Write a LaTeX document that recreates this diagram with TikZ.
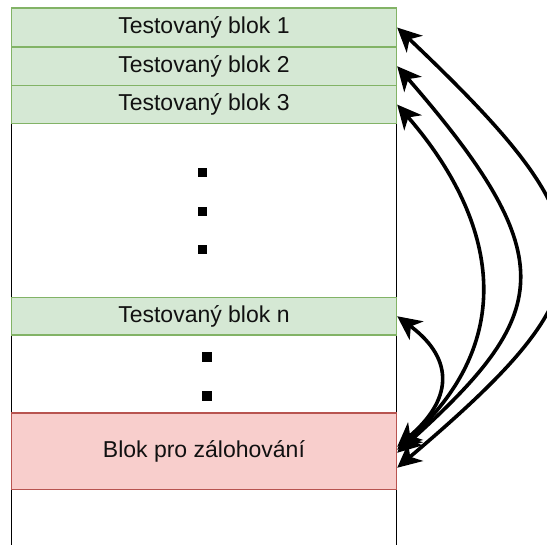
\documentclass[tikz,border=0pt]{standalone}
\usepackage{fontspec}
\setmainfont{Liberation Sans}
\usetikzlibrary{arrows.meta}

\definecolor{blockfill}{HTML}{D5E8D4}
\definecolor{blockline}{HTML}{82B366}
\definecolor{backupfill}{HTML}{F8CECC}
\definecolor{backupline}{HTML}{B85450}
\definecolor{labeltext}{HTML}{111111}

\begin{document}
\begin{tikzpicture}[x=1pt,y=-1pt,
  memframe/.style={draw=black,line width=1.4pt,rectangle,inner sep=0pt,
    minimum width=385pt,minimum height=570pt,anchor=north west},
  testblock/.style={draw=blockline,fill=blockfill,line width=1.5pt,rectangle,
    inner sep=0pt,minimum width=385pt,anchor=north west,text=labeltext,
    font=\fontsize{23}{27}\selectfont},
  backupblock/.style={testblock,draw=backupline,fill=backupfill},
  gap/.style={fill=black,rectangle,inner sep=0pt,minimum size=9.5pt},
  swap/.style={line width=3.6pt,{Stealth[length=24pt,width=23pt,inset=7pt]}-{Stealth[length=24pt,width=23pt,inset=7pt]}}
]
\useasboundingbox (0,0) rectangle (547,545);

% memory area: open at the bottom (clipped by the page)
\node[memframe] (mem) at (10.7,7.3) {};

% tested blocks
\node[testblock,minimum height=39pt]   (b1) at (10.7,7.3)   {Testovaný blok 1};
\node[testblock,minimum height=38.4pt] (b2) at (10.7,46.3)  {Testovaný blok 2};
\node[testblock,minimum height=38.3pt] (b3) at (10.7,84.7)  {Testovaný blok 3};
\node[testblock,minimum height=37.6pt] (bn) at (10.7,296.7) {Testovaný blok n};
\node[backupblock,minimum height=76.7pt] (bk) at (10.7,412.3) {Blok pro zálohování};

% omitted blocks
\node[gap] (g1) at (202.5,172.5) {};
\node[gap] (g2) at (202.5,211.5) {};
\node[gap] (g3) at (202.5,249.5) {};
\node[gap] (g4) at (207,357) {};
\node[gap] (g5) at (207,396) {};

% swaps between each tested block and the backup block
\draw[swap] (bn.east) .. controls +(59,44) and +(54,-46) .. ([yshift=4.65pt]bk.east);
\draw[swap] (b3.east) .. controls +(88.6,102) and +(132.4,-119) .. ([yshift=1.65pt]bk.east);
\draw[swap] (b2.east) .. controls +(168.7,194) and +(153.2,-138) .. ([yshift=-1.35pt]bk.east);
\draw[swap] (b1.east) .. controls +(218,207) and +(218,-185) .. ([yshift=-16.35pt]bk.east);
\end{tikzpicture}
\end{document}
